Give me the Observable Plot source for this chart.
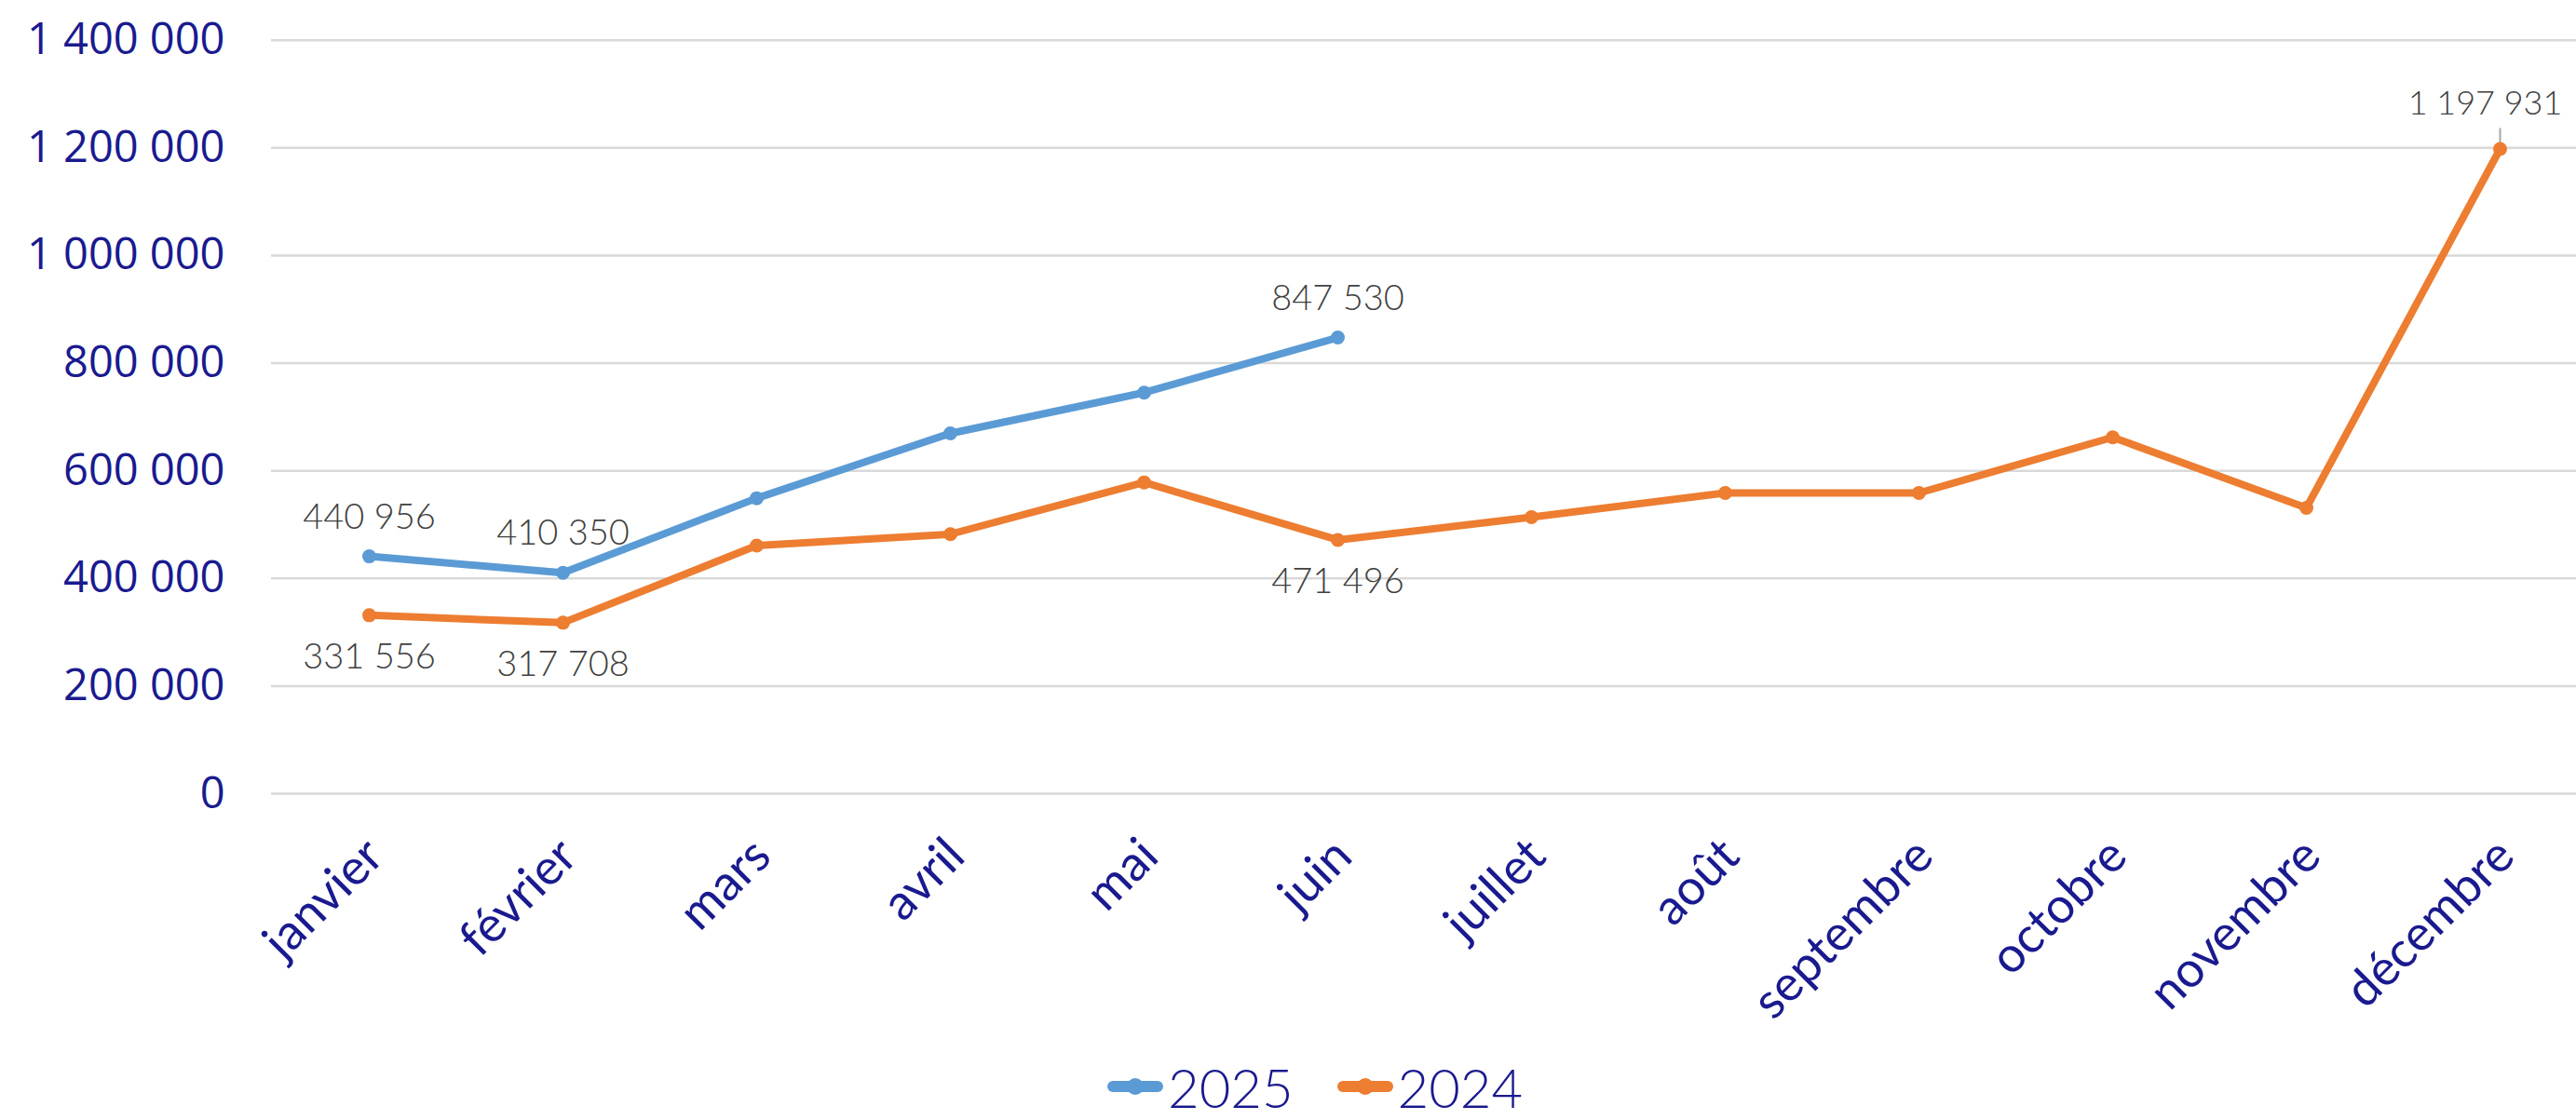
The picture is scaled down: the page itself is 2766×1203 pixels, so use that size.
<!DOCTYPE html>
<html>
<head>
<meta charset="utf-8">
<script src="https://cdn.jsdelivr.net/npm/d3@7"></script>
<script src="https://cdn.jsdelivr.net/npm/@observablehq/plot@0.6"></script>
<style>
  html, body { margin: 0; padding: 0; background: #fff; }
  #wrap { position: relative; width: 2766px; height: 1203px; overflow: hidden; background: #fff; }
  #legend { position: absolute; left: 1188px; top: 1132px; height: 70px; display: flex; align-items: center;
            font-family: Lato, "Noto Sans", sans-serif; font-size: 58px; font-weight: 300; color: #1a1a8f; }
  #legend .item { display: flex; align-items: center; margin-right: 46px; }
  #legend svg { margin-right: 4px; }
</style>
</head>
<body>
<div id="wrap"><div id="chart"></div><div id="legend"></div></div>
<script>
// ---- data ----
const months = ["janvier","février","mars","avril","mai","juin","juillet","août","septembre","octobre","novembre","décembre"];
const series = ["2025", "2024"];
const values2025 = [440956, 410350, 549000, 669500, 745200, 847530];
const values2024 = [331556, 317708, 461000, 482200, 578400, 471496, 513800, 558800, 558800, 662100, 531100, 1197931];
const colors = ["#5B9BD5", "#ED7D31"];
const yTicks = [0, 200000, 400000, 600000, 800000, 1000000, 1200000, 1400000];
// months that carry a data label
const labelsAbove2025 = ["janvier", "février", "juin"];
const labelsBelow2024 = ["janvier", "février", "juin"];
const labelsAbove2024 = ["décembre"];

const navy = "#1a1a8f";
const fmt = d3.formatLocale({thousands: " ", grouping: [3], decimal: ","}).format(",d");

const rows = [
  ...values2025.map((v, i) => ({month: months[i], year: "2025", value: v})),
  ...values2024.map((v, i) => ({month: months[i], year: "2024", value: v}))
];
const above2025 = rows.filter(d => d.year === "2025" && labelsAbove2025.includes(d.month));
const above2024 = rows.filter(d => d.year === "2024" && labelsAbove2024.includes(d.month));
const below = rows.filter(d => d.year === "2024" && labelsBelow2024.includes(d.month));

const labelStyle = {fontSize: 38, fontFamily: "Lato", fontWeight: 300, fill: "#404040"};

const chart = Plot.plot({
  width: 2766,
  height: 1110,
  marginLeft: 291,
  marginRight: 0,
  marginTop: 42.7,
  marginBottom: 258,
  style: {background: "white", overflow: "visible"},
  x: {type: "point", domain: months, range: [395, 2685], padding: 0},
  y: {domain: [0, 1400000]},
  color: {domain: series, range: colors},
  marks: [
    Plot.gridY(yTicks, {stroke: "#d9d9d9", strokeOpacity: 1, strokeWidth: 2.5}),
    Plot.axisY(yTicks, {tickSize: 0, tickPadding: 50, tickFormat: fmt, fontSize: 47,
                        fontFamily: "Open Sans", fill: navy, label: null}),
    Plot.axisX({tickSize: 0, tickRotate: -45, tickPadding: 58, dx: 6, fontSize: 53,
                fontFamily: "Lato", fill: navy, label: null}),
    Plot.ruleX(above2024, {x: "month", y1: "value", y2: "value", insetBottom: 22, stroke: "#a6a6a6", strokeWidth: 2}),
    Plot.line(rows, {x: "month", y: "value", z: "year", stroke: "year", strokeWidth: 8,
                     strokeLinejoin: "round", strokeLinecap: "round"}),
    Plot.dot(rows, {x: "month", y: "value", fill: "year", r: 7.5}),
    Plot.text(above2025, {x: "month", y: "value", text: d => fmt(d.value), dy: -42, ...labelStyle}),
    Plot.text(above2024, {x: "month", y: "value", text: d => fmt(d.value), dy: -49, dx: -16, ...labelStyle, fontSize: 36}),
    Plot.text(below, {x: "month", y: "value", text: d => fmt(d.value), dy: 45, ...labelStyle})
  ]
});
document.getElementById("chart").appendChild(chart);

// legend
const legend = document.getElementById("legend");
series.forEach((s, i) => {
  const item = document.createElement("div");
  item.className = "item";
  item.innerHTML = `<svg width="62" height="24"><line x1="7" y1="12" x2="55" y2="12" stroke="${colors[i]}" stroke-width="12" stroke-linecap="round"/><circle cx="31" cy="12" r="9" fill="${colors[i]}"/></svg><span>${s}</span>`;
  legend.appendChild(item);
});
</script>
</body>
</html>
